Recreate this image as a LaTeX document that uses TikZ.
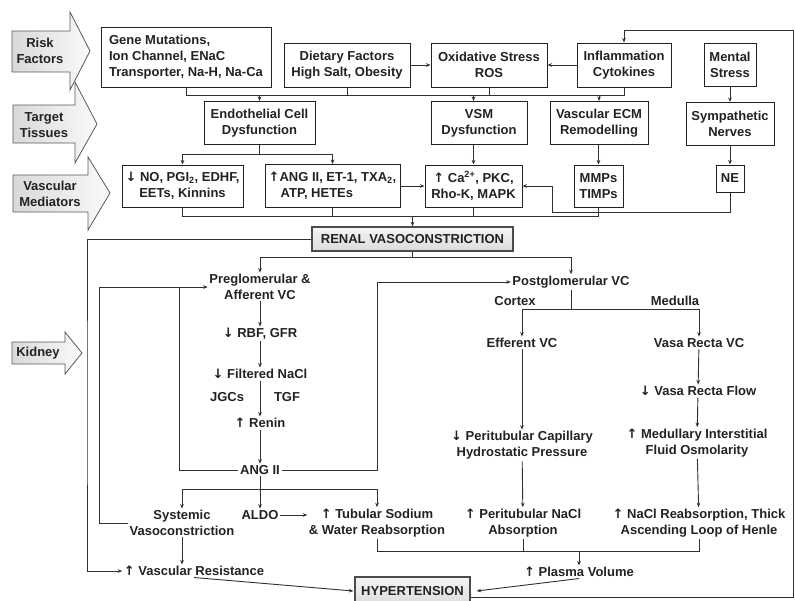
\documentclass[tikz,border=0pt]{standalone}
\usepackage{fontspec}
\setmainfont{Liberation Sans}
\newfontfamily\arwfont{DejaVu Sans}
\newcommand{\myup}{{\arwfont\bfseries ↑}}
\newcommand{\mydn}{{\arwfont\bfseries ↓}}
\usetikzlibrary{arrows.meta,calc}
\definecolor{ink}{HTML}{222222}
\definecolor{ln}{HTML}{303030}
\begin{document}
\begin{tikzpicture}[x=1pt,y=-1pt,
  font=\fontsize{13}{16}\selectfont\bfseries,
  txt/.style={text=ink, align=center, inner sep=1.5pt},
  box/.style={draw=ink, line width=1pt, text=ink, align=center, inner sep=0pt},
  graybox/.style={box, draw=gray!60!black, line width=1.3pt, top color=gray!8, bottom color=gray!28},
  con/.style={draw=ln, line width=0.9pt},
  arr/.style={con, -{Stealth[length=4.5pt,width=3.6pt]}},
  bigarrow/.style={draw=gray!70!black, line width=0.8pt, left color=gray!30, right color=gray!4},
  ]
\useasboundingbox (0,0) rectangle (795,600);
\clip (0,0) rectangle (795,600);

% ---- left category arrows ----
\path[bigarrow] (12,31) -- (70,31) -- (70,12) -- (90,51) -- (70,90) -- (70,72) -- (12,72) -- cycle;
\node[txt] (rf) at (40,51) {Risk\\Factors};
\path[bigarrow] (13,105) -- (75,105) -- (75,82) -- (97,124) -- (75,163) -- (75,143) -- (13,143) -- cycle;
\node[txt] (tt) at (44,125) {Target\\Tissues};
\path[bigarrow] (13,175) -- (88,175) -- (88,157) -- (110,193) -- (88,230) -- (88,212) -- (13,212) -- cycle;
\node[txt] (vm) at (50,194) {Vascular\\Mediators};
\path[bigarrow] (12,342) -- (65,342) -- (65,332) -- (82,353) -- (65,374) -- (65,364) -- (12,364) -- cycle;
\node[txt] (kd) at (38,353) {Kidney};

% ---- row 1 ----
\node[box, minimum width=170pt, minimum height=60pt, align=left] (gene) at (186,57) {Gene Mutations,\\Ion Channel, ENaC\\Transporter, Na-H, Na-Ca};
\node[box, minimum width=126pt, minimum height=44pt] (diet) at (347,65) {Dietary Factors\\High Salt, Obesity};
\node[box, minimum width=116pt, minimum height=44pt] (oxid) at (489,65) {Oxidative Stress\\ROS};
\node[box, minimum width=94pt, minimum height=44pt] (infl) at (624,65) {Inflammation\\Cytokines};
\node[box, minimum width=52pt, minimum height=43pt] (mental) at (730,64.5) {Mental\\Stress};

% ---- row 2 ----
\node[box, minimum width=111pt, minimum height=43pt] (endo) at (259.5,123) {Endothelial Cell\\Dysfunction};
\node[box, minimum width=96pt, minimum height=43pt] (vsm) at (479,123) {VSM\\Dysfunction};
\node[box, minimum width=98pt, minimum height=43pt] (ecm) at (599,123) {Vascular ECM\\Remodelling};
\node[box, minimum width=88pt, minimum height=43pt] (symp) at (730,124) {Sympathetic\\Nerves};

% ---- row 3 ----
\node[box, minimum width=121pt, minimum height=42pt] (no) at (182.5,186) {\mydn\ NO, PGI\textsubscript{2}, EDHF,\\EETs, Kinnins};
\node[box, minimum width=135pt, minimum height=43pt, align=left] (ang) at (332.5,186) {\myup ANG II, ET-1, TXA\textsubscript{2},\\\hspace*{12pt}ATP, HETEs};
\node[box, minimum width=97pt, minimum height=42pt] (ca) at (473.5,186) {\myup\ Ca\textsuperscript{2+}, PKC,\\Rho-K, MAPK};
\node[box, minimum width=49pt, minimum height=42pt] (mmp) at (598.5,186) {MMPs\\TIMPs};
\node[box, minimum width=28pt, minimum height=27pt] (ne) at (730,178.5) {NE};

\node[graybox, minimum width=201pt, minimum height=24pt] (renal) at (412.5,239) {RENAL VASOCONSTRICTION};
\node[graybox, minimum width=115pt, minimum height=28pt] (hyper) at (412.5,591) {HYPERTENSION};

% ---- kidney texts ----
\node[txt] (pre) at (260,287) {Preglomerular \&\\Afferent VC};
\node[txt] (rbf) at (260,334) {\mydn\ RBF, GFR};
\node[txt] (filt) at (260,374) {\mydn\ Filtered NaCl};
\node[txt] (jgc) at (227,397) {JGCs};
\node[txt] (tgf) at (287,397) {TGF};
\node[txt] (renin) at (260,423) {\myup\ Renin};
\node[txt] (ang2) at (260,470) {ANG II};
\node[txt] (sysv) at (182,523) {Systemic\\Vasoconstriction};
\node[txt] (aldo) at (260,515) {ALDO};
\node[txt] (tub) at (377,523) {\myup\ Tubular Sodium\\\& Water Reabsorption};
\node[txt] (vr) at (194,571) {\myup\ Vascular Resistance};

\node[txt] (post) at (571,282) {Postglomerular VC};
\node[txt] (cortex) at (515,301) {Cortex};
\node[txt] (medulla) at (675,301) {Medulla};
\node[txt] (eff) at (522,343) {Efferent VC};
\node[txt] (vrvc) at (699,343) {Vasa Recta VC};
\node[txt] (vrf) at (698,391) {\mydn\ Vasa Recta Flow};
\node[txt] (peri) at (522,445.5) {\mydn\ Peritubular Capillary\\Hydrostatic Pressure};
\node[txt] (med) at (697,443) {\myup\ Medullary Interstitial\\Fluid Osmolarity};
\node[txt] (pna) at (523,523) {\myup\ Peritubular NaCl\\Absorption};
\node[txt] (nacl) at (699,523) {\myup\ NaCl Reabsorption, Thick\\Ascending Loop of Henle};
\node[txt] (plasma) at (579,572) {\myup\ Plasma Volume};

% ---- connectors: risk factors ----
\draw[arr] (diet.east) -- (oxid.west);
\draw[arr] (infl.west) -- (oxid.east);
\draw[con] (gene.south) -- (gene.south |- 0,95) -- (infl.south |- 0,95) -- (infl.south);
\draw[con] (diet.south) -- (diet.south |- 0,95);
\draw[con] (oxid.south) -- (oxid.south |- 0,95);
\draw[arr] (endo.north |- 0,95) -- (endo.north);
\draw[arr] (ca.north |- 0,95) -- (ca.north |- vsm.north);
\draw[arr] (ecm.north |- 0,95) -- (ecm.north);
\draw[arr] (mental) -- (symp);
\draw[arr] (symp) -- (ne);

% ---- target tissues -> mediators ----
\draw[arr] (endo.south) -- ++(0,9) -| (no.north);
\draw[arr] (endo.south) -- ++(0,9) -| (ang.north);
\draw[arr] (vsm.south -| ca.north) -- (ca.north);
\draw[arr] (ecm.south -| mmp.north) -- (mmp.north);
\draw[arr] (ang.east) -- (ca.west);
\draw[arr] (ne.south) |- (552,212) |- (ca.east);

% ---- mediators -> renal vasoconstriction ----
\draw[con] (no.south) -- ++(0,9) -| (mmp.south);
\draw[con] (ang.south) -- (ang.south |- 0,216);
\draw[con] (ca.south) -- (ca.south |- 0,216);
\draw[arr] (renal.north |- 0,216) -- (renal.north);

% ---- kidney ----
\draw[arr] (renal.west) -| (87,400) |- (vr.west);
\draw[arr] (renal.south) -- ++(0,6) -| (pre.north);
\draw[arr] (renal.south) -- ++(0,6) -| (post.north);
\draw[arr] (pre) -- (rbf);
\draw[arr] (rbf) -- (filt);
\draw[arr] (filt) -- (renin);
\draw[arr] (renin) -- (ang2);
\draw[con] (ang2.west) -| (179,287);
\draw[arr] (sysv.west) -| (99,287) -- (pre.west);
\draw[arr] (ang2.east) -| (377,282) -- (post.west);
\draw[arr] (ang2.south) -- ++(0,13) -| (sysv.north);
\draw[arr] (ang2.south) -- ++(0,13) -| (tub.north);
\draw[arr] (ang2.south) -- (aldo.north);
\draw[arr] (aldo.east) -- (aldo.east -| tub.west);
\draw[arr] (sysv.south) -- (sysv.south |- vr.north);
\draw[arr] (vr.south) -- ($(hyper.west)+(-1,0)$);

\draw[arr] (post.south) -- ++(0,20) -| (eff.north);
\draw[arr] (post.south) -- ++(0,20) -| (vrvc.north);
\draw[arr] (eff) -- (peri);
\draw[arr] (vrvc) -- (vrf);
\draw[arr] (vrf) -- (med);
\draw[arr] (peri) -- (pna);
\draw[arr] (med) -- (nacl);

\draw[con] (tub.south) -- (tub.south |- 0,551) -- (nacl.south |- 0,551) -- (nacl.south);
\draw[con] (pna.south) -- (pna.south |- 0,551);
\draw[arr] (plasma.north |- 0,551) -- (plasma.north);
\draw[arr] (plasma.south) -- ($(hyper.east)+(6,0)$);

% ---- feedback ----
\draw[arr] ($(hyper.east)+(0,6)$) -| (793,30) -| (infl.north);
\end{tikzpicture}
\end{document}
